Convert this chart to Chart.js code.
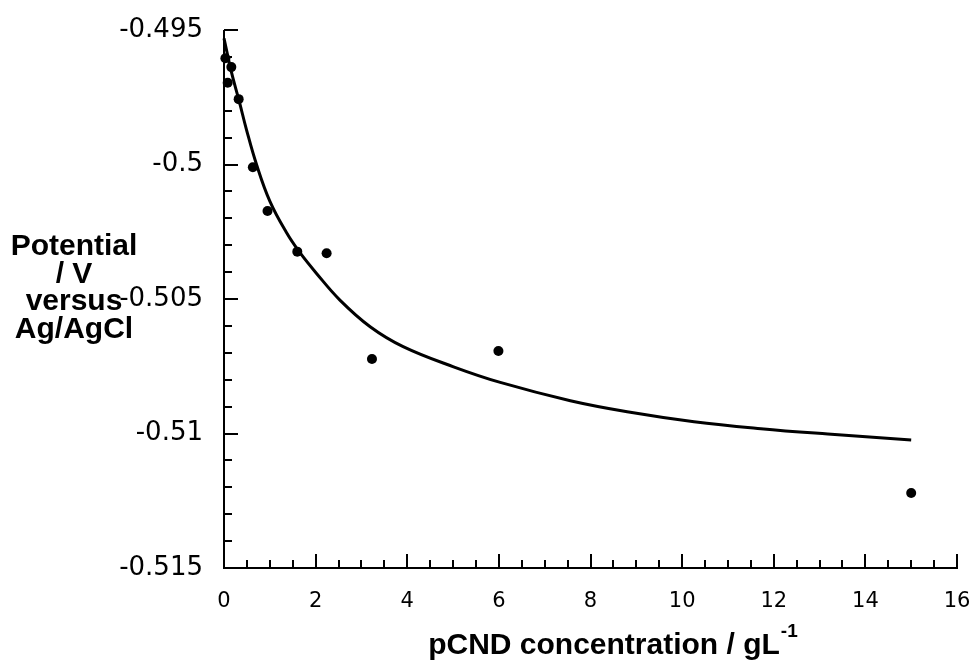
<!DOCTYPE html>
<html>
<head>
<meta charset="utf-8">
<script src="https://cdn.jsdelivr.net/npm/chart.js@4.4.1/dist/chart.umd.min.js"></script>
<style>
  html, body { margin: 0; padding: 0; background: #fff; }
</style>
</head>
<body>
<canvas id="potentialChart" width="974" height="665"></canvas>
<script>
// === data ===
const concX = [0.03, 0.08, 0.16, 0.32, 0.63, 0.95, 1.60, 2.24, 3.23, 5.99, 15.0];
const potentialV = [-0.49605, -0.49696, -0.49638, -0.49757, -0.50010, -0.50173,
                    -0.50324, -0.50330, -0.50723, -0.50693, -0.51221];

// fitted curve
const fitX = [0, 0.16, 0.34, 0.49, 0.71, 1.0, 1.36, 1.65, 2.02, 2.53, 3.19,
              3.91, 5.01, 6.03, 7.56, 8.80, 10.26, 11.72, 13.18, 15.0];
const fitY = [-0.49531, -0.49655, -0.49770, -0.49870, -0.50000, -0.50136, -0.50252,
              -0.50326, -0.50405, -0.50504, -0.50603, -0.50677, -0.50752, -0.50810,
              -0.50878, -0.50919, -0.50956, -0.50982, -0.51002, -0.51024];

// axis ranges / tick steps
const X_MIN = 0, X_MAX = 16, X_STEP = 2, X_MINOR = 0.5;
const Y_MIN = -0.515, Y_MAX = -0.495, Y_STEP = 0.005, Y_MINOR = 0.001;

const yTitleLines = ['Potential', '/ V', 'versus', 'Ag/AgCl'];
const xTitleMain = 'pCND concentration / gL';
const xTitleSup = '-1';

const toPts = (xs, ys) => xs.map((v, i) => ({ x: v, y: ys[i] }));

// axis lines, inward ticks and the horizontal titles
const axesPlugin = {
  id: 'axesDraw',
  beforeDatasetsDraw(chart) {
    const { ctx, scales: { x, y } } = chart;
    const x0 = Math.round(x.getPixelForValue(X_MIN));
    const x1 = Math.round(x.getPixelForValue(X_MAX));
    const yb = Math.round(y.getPixelForValue(Y_MIN));
    const yt = Math.round(y.getPixelForValue(Y_MAX));
    ctx.save();
    ctx.strokeStyle = '#000';
    ctx.lineWidth = 2;
    ctx.beginPath();
    ctx.moveTo(x0, yt);
    ctx.lineTo(x0, yb);
    ctx.lineTo(x1 + 1, yb);
    ctx.stroke();

    ctx.beginPath();
    const nx = Math.round((X_MAX - X_MIN) / X_MINOR);
    for (let i = 1; i <= nx; i++) {
      const v = X_MIN + i * X_MINOR;
      const px = Math.round(x.getPixelForValue(v));
      const len = (i % Math.round(X_STEP / X_MINOR) === 0) ? 14 : 8;
      ctx.moveTo(px, yb);
      ctx.lineTo(px, yb - len);
    }
    const ny = Math.round((Y_MAX - Y_MIN) / Y_MINOR);
    for (let i = 1; i <= ny; i++) {
      const v = Y_MIN + i * Y_MINOR;
      const py = Math.round(y.getPixelForValue(v));
      const len = (i % Math.round(Y_STEP / Y_MINOR) === 0) ? 14 : 8;
      ctx.moveTo(x0, py);
      ctx.lineTo(x0 + len, py);
    }
    ctx.stroke();
    ctx.restore();
  },
  afterDraw(chart) {
    const { ctx } = chart;
    ctx.save();
    ctx.fillStyle = '#000';
    ctx.font = 'bold 30px "Liberation Sans", Arial, sans-serif';
    ctx.textAlign = 'center';
    ctx.textBaseline = 'alphabetic';
    yTitleLines.forEach((t, i) => ctx.fillText(t, 74, 255 + i * 27.7));

    ctx.textAlign = 'left';
    const w = ctx.measureText(xTitleMain).width;
    const startX = 604 - w / 2;
    ctx.fillText(xTitleMain, startX, 654);
    ctx.font = 'bold 19px "Liberation Sans", Arial, sans-serif';
    ctx.fillText(xTitleSup, startX + w + 1, 637);
    ctx.restore();
  }
};

const ctx = document.getElementById('potentialChart').getContext('2d');
new Chart(ctx, {
  type: 'scatter',
  data: {
    datasets: [
      {
        label: 'data',
        data: toPts(concX, potentialV),
        pointRadius: 5,
        pointBackgroundColor: '#000',
        pointBorderWidth: 0,
        showLine: false,
        clip: false
      },
      {
        label: 'fit',
        data: toPts(fitX, fitY),
        showLine: true,
        borderColor: '#000',
        borderWidth: 3,
        pointRadius: 0,
        tension: 0.4,
        fill: false,
        clip: false
      }
    ]
  },
  options: {
    responsive: false,
    animation: false,
    layout: { padding: { top: 30, right: 17, left: 0, bottom: 0 } },
    plugins: { legend: { display: false }, tooltip: { enabled: false } },
    scales: {
      x: {
        type: 'linear',
        min: X_MIN, max: X_MAX,
        grid: { display: false, drawTicks: false },
        border: { display: false },
        ticks: {
          stepSize: X_STEP,
          color: '#000',
          padding: 21,
          maxRotation: 0,
          font: { family: '"DejaVu Sans", sans-serif', size: 21 }
        },
        afterFit(scale) {
          scale.height = 97;
          scale.paddingLeft = 0;
          scale.paddingRight = 0;
        }
      },
      y: {
        type: 'linear',
        min: Y_MIN, max: Y_MAX,
        grid: { display: false, drawTicks: false },
        border: { display: false },
        ticks: {
          stepSize: Y_STEP,
          color: '#000',
          padding: 21,
          font: { family: '"DejaVu Sans", sans-serif', size: 26 },
          callback: v => String(parseFloat(Number(v).toFixed(3)))
        },
        afterFit(scale) {
          scale.width = 224;
          scale.paddingTop = 0;
          scale.paddingBottom = 0;
        }
      }
    }
  },
  plugins: [axesPlugin]
});
</script>
</body>
</html>
